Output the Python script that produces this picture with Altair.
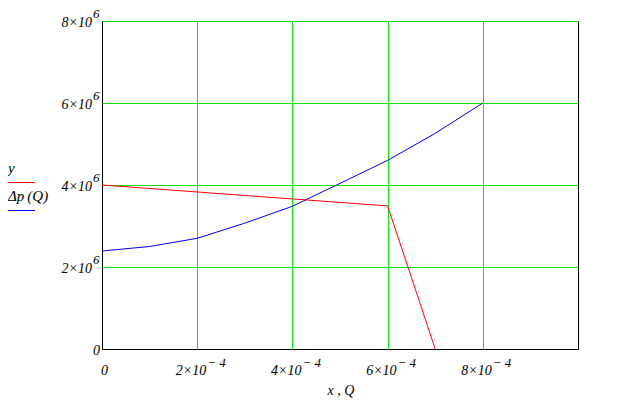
import altair as alt
import pandas as pd

# Blue curve: Δp(Q)
Q = [0, 1e-4, 2e-4, 3e-4, 4e-4, 5e-4, 6e-4, 7e-4, 8e-4]
dp = [2.39e6, 2.50e6, 2.70e6, 3.07e6, 3.48e6, 4.04e6, 4.60e6, 5.26e6, 6.00e6]

# Red curve: y(x)
xr = [0, 6e-4, 7e-4]
yr = [4.0e6, 3.49e6, 0]

# Tick labels
x_ticks = [0, 2e-4, 4e-4, 6e-4, 8e-4]
x_mant = ["0", "2×10", "4×10", "6×10", "8×10"]
x_exp = ["", "− 4", "− 4", "− 4", "− 4"]
y_ticks = [0, 2e6, 4e6, 6e6, 8e6]
y_mant = ["0", "2×10", "4×10", "6×10", "8×10"]
y_exp = ["", "6", "6", "6", "6"]

legend_labels = ["y", "Δp\u2009(Q)"]
legend_colors = ["red", "blue"]
x_title = "x , Q"

GREEN = "#11e011"
FONT = "Liberation Serif"

df_b = pd.DataFrame({"Q": Q, "dp": dp})
df_r = pd.DataFrame({"x": xr, "y": yr})
df_xt = pd.DataFrame({"tick": x_ticks, "mant": x_mant, "exp": x_exp})
df_yt = pd.DataFrame({"tick": y_ticks, "mant": y_mant, "exp": y_exp})

xscale = alt.Scale(domain=[0, 1e-3], nice=False, zero=False)
yscale = alt.Scale(domain=[0, 8e6], nice=False, zero=False)

axis_x = alt.Axis(grid=True, gridColor=GREEN, gridWidth=1, gridOpacity=1,
                  values=x_ticks[1:], labels=False, ticks=False, domain=False, title=None)
axis_y = alt.Axis(grid=True, gridColor=GREEN, gridWidth=1, gridOpacity=1,
                  values=y_ticks[1:], labels=False, ticks=False, domain=False, title=None)

blue = alt.Chart(df_b).mark_line(color="#0000ff", strokeWidth=1).encode(
    x=alt.X("Q:Q", scale=xscale, axis=axis_x),
    y=alt.Y("dp:Q", scale=yscale, axis=axis_y),
)
red = alt.Chart(df_r).mark_line(color="#ff0000", strokeWidth=1).encode(
    x=alt.X("x:Q", scale=xscale),
    y=alt.Y("y:Q", scale=yscale),
)

txt = dict(font=FONT, fontStyle="italic", color="black", baseline="alphabetic")

# x tick labels
xm = alt.Chart(df_xt).transform_filter("datum.exp != ''").mark_text(align="right", dx=9, fontSize=14, **txt).encode(
    x=alt.X("tick:Q", scale=xscale), y=alt.value(354), text="mant:N")
xe = alt.Chart(df_xt).transform_filter("datum.exp != ''").mark_text(align="left", dx=10, fontSize=13, **txt).encode(
    x=alt.X("tick:Q", scale=xscale), y=alt.value(346), text="exp:N")
x0 = alt.Chart(df_xt).transform_filter("datum.exp == ''").mark_text(align="right", dx=6, fontSize=14, **txt).encode(
    x=alt.X("tick:Q", scale=xscale), y=alt.value(354), text="mant:N")

# y tick labels
ym = alt.Chart(df_yt).transform_filter("datum.exp != ''").mark_text(align="right", dy=6, fontSize=14, **txt).encode(
    y=alt.Y("tick:Q", scale=yscale), x=alt.value(-10), text="mant:N")
ye = alt.Chart(df_yt).transform_filter("datum.exp != ''").mark_text(align="left", dy=-3, fontSize=13, **txt).encode(
    y=alt.Y("tick:Q", scale=yscale), x=alt.value(-9), text="exp:N")
y0 = alt.Chart(df_yt).transform_filter("datum.exp == ''").mark_text(align="right", dy=6, fontSize=14, **txt).encode(
    y=alt.Y("tick:Q", scale=yscale), x=alt.value(-2), text="mant:N")

# legend
df_l1 = pd.DataFrame({"label": [legend_labels[0]]})
df_l2 = pd.DataFrame({"label": [legend_labels[1]]})
leg1 = alt.Chart(df_l1).mark_text(align="left", fontSize=15, **txt).encode(
    x=alt.value(-94), y=alt.value(152), text="label:N")
leg2 = alt.Chart(df_l2).mark_text(align="left", fontSize=15, **txt).encode(
    x=alt.value(-94), y=alt.value(180), text="label:N")
legl1 = alt.Chart(df_l1).mark_rule(color=legend_colors[0], strokeWidth=1).encode(
    x=alt.value(-95), x2=alt.value(-67), y=alt.value(161.5))
legl2 = alt.Chart(df_l2).mark_rule(color=legend_colors[1], strokeWidth=1).encode(
    x=alt.value(-95), x2=alt.value(-67), y=alt.value(189.5))

df_t = pd.DataFrame({"t": [x_title]})
title = alt.Chart(df_t).mark_text(align="center", fontSize=14, **txt).encode(
    x=alt.value(239), y=alt.value(374), text="t:N")

chart = alt.layer(
    blue, red, xm, xe, x0, ym, ye, y0, leg1, leg2, legl1, legl2, title
).properties(
    width=476, height=328,
    padding={"left": 94, "top": 13, "right": 20, "bottom": 50},
    autosize=alt.AutoSizeParams(type="none"),
    background="white",
).configure_view(
    stroke="black", strokeWidth=1
)

chart.save("out.html", embed_options={"renderer": "svg", "actions": False})
